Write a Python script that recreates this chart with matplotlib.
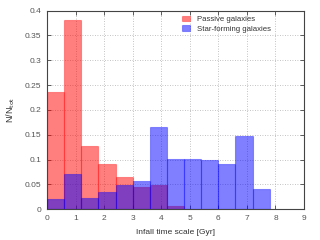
import numpy as np
import matplotlib
matplotlib.use("Agg")
import matplotlib.pyplot as plt

# bin edges (Gyr), width 0.6
edges = [0.0, 0.6, 1.2, 1.8, 2.4, 3.0, 3.6, 4.2, 4.8, 5.4, 6.0, 6.6, 7.2, 7.8]

passive = [0.236, 0.382, 0.127, 0.092, 0.064, 0.044, 0.049, 0.007,
           0.0, 0.0, 0.0, 0.0, 0.0]
starforming = [0.020, 0.072, 0.023, 0.035, 0.049, 0.056, 0.166, 0.101,
               0.101, 0.099, 0.092, 0.148, 0.040]

xticks = [0, 1, 2, 3, 4, 5, 6, 7, 8, 9]
yticks = [0, 0.05, 0.1, 0.15, 0.2, 0.25, 0.3, 0.35, 0.4]
ytick_labels = ["0", "0.05", "0.1", "0.15", "0.2", "0.25", "0.3", "0.35", "0.4"]

plt.rcParams['font.family'] = ['Liberation Sans', 'DejaVu Sans']

fig = plt.figure(figsize=(3.2, 2.4), dpi=100)
ax = fig.add_axes([0.147, 0.128, 0.803, 0.828])

left = np.array(edges[:-1])
width = np.diff(edges)

ax.bar(left, passive, width=width, align='edge',
       color=(1, 0, 0, 0.5), edgecolor=(1, 0, 0, 0.35), linewidth=0.8,
       label='Passive galaxies', zorder=2)
ax.bar(left, starforming, width=width, align='edge',
       color=(0, 0, 1, 0.5), edgecolor=(0, 0, 1, 0.35), linewidth=0.8,
       label='Star-forming galaxies', zorder=3)

ax.set_xlim(0, 9)
ax.set_ylim(0, 0.4)
ax.set_xticks(xticks)
ax.set_yticks(yticks)
ax.set_yticklabels(ytick_labels)

ax.grid(True, linestyle=(0, (1, 2)), color='#b0b0b0', linewidth=0.6, zorder=0)
ax.set_axisbelow(True)

ax.tick_params(direction='in', length=3, width=0.6, top=True, right=True,
               labelsize=6, labelcolor='#555555', color='#444444', pad=4)
for s in ax.spines.values():
    s.set_color('#444444')
    s.set_linewidth(0.8)

ax.set_xlabel('Infall time scale [Gyr]', fontsize=6, color='#333333', labelpad=5)
ax.set_ylabel(r'N/N$_{\rm tot}$', fontsize=6.5, color='#333333', labelpad=6)

ax.legend(loc='upper right', bbox_to_anchor=(0.9, 1.01), frameon=False,
          fontsize=5.6, handlelength=1.1, handleheight=0.7, handletextpad=0.9,
          labelspacing=0.3, labelcolor='#333333')

fig.savefig('out.png', dpi=100)
